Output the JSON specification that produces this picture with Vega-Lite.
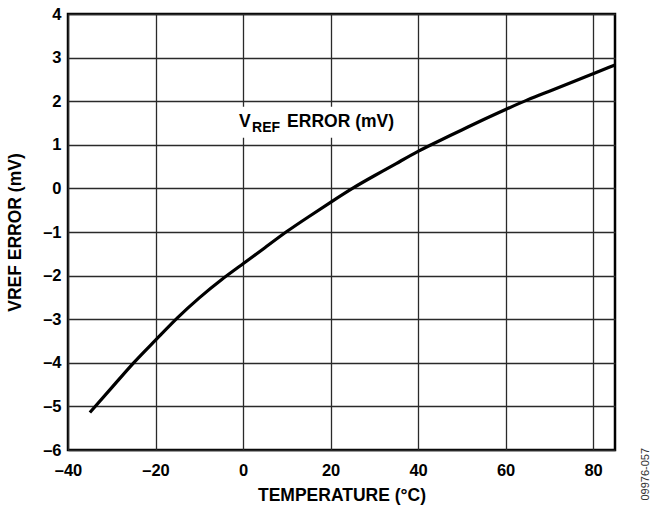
{
  "$schema": "https://vega.github.io/schema/vega-lite/v6.json",
  "width": 547,
  "height": 436,
  "autosize": {"type": "none"},
  "padding": {"left": 68, "top": 14, "right": 35, "bottom": 56},
  "background": "white",
  "config": {
    "font": "Liberation Sans",
    "view": {"stroke": "#000000", "strokeWidth": 2.5},
    "axis": {
      "domain": false,
      "ticks": false,
      "tickSize": 0,
      "grid": true,
      "gridColor": "#2a2a2a",
      "gridWidth": 1.3,
      "gridOpacity": 1,
      "labelFlush": false,
      "labelFont": "Liberation Sans",
      "labelFontSize": 16.5,
      "labelFontWeight": "bold",
      "labelColor": "#000000",
      "titleFont": "Liberation Sans",
      "titleFontSize": 17.5,
      "titleFontWeight": "bold",
      "titleColor": "#000000"
    }
  },
  "resolve": {"axis": {"y": "independent"}},
  "datasets": {
    "curve": [
      {"temp": -35, "err": -5.14},
      {"temp": -30, "err": -4.57},
      {"temp": -25, "err": -4.0},
      {"temp": -20, "err": -3.48},
      {"temp": -15, "err": -2.97},
      {"temp": -10, "err": -2.51},
      {"temp": -5, "err": -2.1},
      {"temp": 0, "err": -1.73},
      {"temp": 5, "err": -1.36},
      {"temp": 10, "err": -0.99},
      {"temp": 15, "err": -0.65},
      {"temp": 20, "err": -0.32},
      {"temp": 25, "err": 0.0},
      {"temp": 30, "err": 0.29},
      {"temp": 35, "err": 0.57},
      {"temp": 40, "err": 0.85},
      {"temp": 45, "err": 1.1},
      {"temp": 50, "err": 1.34},
      {"temp": 55, "err": 1.58},
      {"temp": 60, "err": 1.81},
      {"temp": 65, "err": 2.03},
      {"temp": 70, "err": 2.23},
      {"temp": 75, "err": 2.43},
      {"temp": 80, "err": 2.63},
      {"temp": 85, "err": 2.83}
    ],
    "box": [{"x": -2.5, "x2": 37, "y": 1.16, "y2": 1.87}],
    "label": [{"x": -0.9, "y": 1.415, "v": "V", "sub": "REF", "rest": "ERROR (mV)"}]
  },
  "layer": [
    {
      "data": {"name": "curve"},
      "mark": {"type": "line", "color": "#000000", "strokeWidth": 3.2, "interpolate": "natural"},
      "encoding": {
        "x": {
          "field": "temp",
          "type": "quantitative",
          "scale": {"domain": [-40, 85], "nice": false, "zero": false},
          "axis": {
            "values": [-40, -20, 0, 20, 40, 60, 80],
            "labelPadding": 12,
            "labelExpr": "datum.value < 0 ? '–' + format(-datum.value, 'd') : format(datum.value, 'd')",
            "title": "TEMPERATURE (°C)",
            "titlePadding": 8
          }
        },
        "y": {
          "field": "err",
          "type": "quantitative",
          "scale": {"domain": [-6, 4], "nice": false, "zero": false},
          "axis": {
            "values": [-6, -5, -4, -3, -2, -1, 0, 1, 2, 3, 4],
            "labelPadding": 7,
            "labelExpr": "datum.value < 0 ? '–' + format(-datum.value, 'd') : format(datum.value, 'd')",
            "title": "VREF ERROR (mV)",
            "titlePadding": 18
          }
        }
      }
    },
    {
      "data": {"name": "box"},
      "mark": {"type": "rect", "color": "white"},
      "encoding": {
        "x": {"field": "x", "type": "quantitative"},
        "x2": {"field": "x2"},
        "y": {
          "field": "y",
          "type": "quantitative",
          "axis": {
            "orient": "right",
            "labels": false,
            "grid": false,
            "ticks": false,
            "domain": false,
            "title": "09976-057",
            "titleAngle": 270,
            "titleAlign": "left",
            "titleBaseline": "top",
            "titleX": 24,
            "titleY": 486,
            "titleFont": "Liberation Sans",
            "titleFontSize": 11,
            "titleFontWeight": "normal",
            "titleColor": "#333333"
          }
        },
        "y2": {"field": "y2"}
      }
    },
    {
      "data": {"name": "label"},
      "mark": {"type": "text", "align": "left", "baseline": "alphabetic", "fontSize": 17.5, "fontWeight": "bold", "color": "#000000"},
      "encoding": {
        "x": {"field": "x", "type": "quantitative"},
        "y": {"field": "y", "type": "quantitative", "axis": null},
        "text": {"field": "v"}
      }
    },
    {
      "data": {"name": "label"},
      "mark": {"type": "text", "align": "left", "baseline": "alphabetic", "fontSize": 14, "fontWeight": "bold", "color": "#000000", "dx": 13, "dy": 5.5},
      "encoding": {
        "x": {"field": "x", "type": "quantitative"},
        "y": {"field": "y", "type": "quantitative", "axis": null},
        "text": {"field": "sub"}
      }
    },
    {
      "data": {"name": "label"},
      "mark": {"type": "text", "align": "left", "baseline": "alphabetic", "fontSize": 17.5, "fontWeight": "bold", "color": "#000000", "dx": 48},
      "encoding": {
        "x": {"field": "x", "type": "quantitative"},
        "y": {"field": "y", "type": "quantitative", "axis": null},
        "text": {"field": "rest"}
      }
    }
  ]
}
